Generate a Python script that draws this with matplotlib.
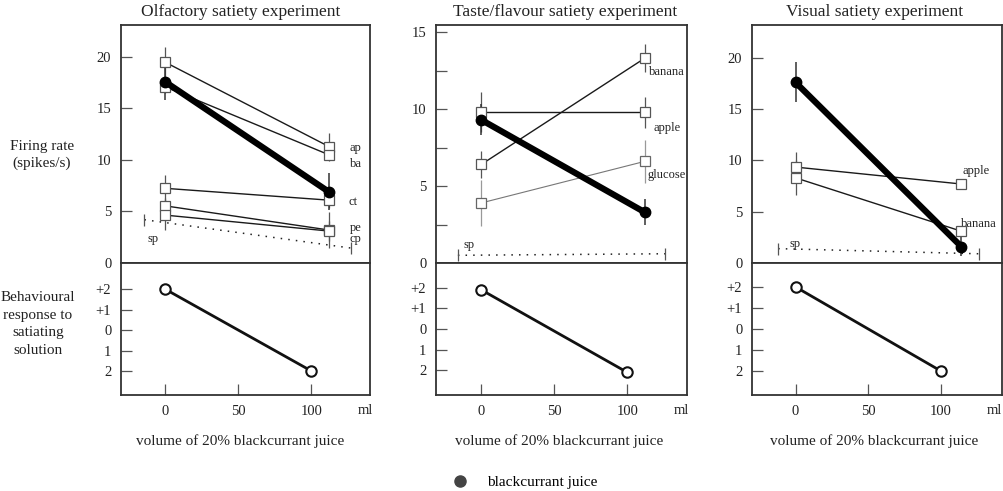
import matplotlib
matplotlib.use("Agg")
import matplotlib.pyplot as plt
from matplotlib.lines import Line2D
from matplotlib.ticker import MultipleLocator

plt.rcParams['font.family'] = ['Liberation Serif', 'DejaVu Serif']

# ---------------- data ----------------
titles = ["Olfactory satiety experiment", "Taste/flavour satiety experiment", "Visual satiety experiment"]

# x positions (ml) of neuronal measurements
x_olf = [0, 112]
x_tf = [0, 112]
x_vis = [0, 114]

# Olfactory satiety experiment (spikes/s)
olf_bc = [17.6, 6.9];  olf_bc_err = [1.8, 1.8]
olf_ap = [19.5, 11.3]; olf_ap_err = [1.5, 1.3]
olf_ba = [17.1, 10.5]; olf_ba_err = [0.6, 0.6]
olf_ct = [7.25, 6.1];  olf_ct_err = [1.25, 0.8]
olf_pe = [5.55, 3.2];  olf_pe_err = [0.8, 1.75]
olf_cp = [4.65, 3.1];  olf_cp_err = [1.45, 1.0]
olf_sp_x = [-14, 127]; olf_sp = [4.2, 1.45]

# Taste/flavour satiety experiment
tf_bc = [9.3, 3.3];       tf_bc_err = [1.0, 0.85]
tf_banana = [6.4, 13.3];  tf_banana_err = [0.9, 0.9]
tf_apple = [9.8, 9.8];    tf_apple_err = [1.3, 1.0]
tf_glucose = [3.9, 6.6];  tf_glucose_err = [1.5, 1.4]
tf_sp_x = [-16, 126];     tf_sp = [0.5, 0.6]

# Visual satiety experiment
vis_bc = [17.6, 1.6];     vis_bc_err = [1.95, 0.9]
vis_apple = [9.35, 7.7];  vis_apple_err = [1.45, 0.3]
vis_banana = [8.3, 3.1];  vis_banana_err = [1.7, 0.3]
vis_sp_x = [-12, 126];    vis_sp = [1.4, 0.9]

# Behavioural response (+2 .. 2 mapped to 2 .. -2)
beh_x = [0, 100]
beh_olf = [2, -2]
beh_tf = [1.9, -2.1]
beh_vis = [2, -2]
beh_ticks = [2, 1, 0, -1, -2]
beh_ticklabels = ["+2", "+1", "0", "1", "2"]
vol_ticks = [0, 50, 100]

# ---------------- layout ----------------
W, H = 1004, 491
fig = plt.figure(figsize=(W / 100, H / 100), dpi=100)

panels_px = [(121, 370), (436, 687), (752, 1002)]
top_y0, div_y, bot_y1 = 25, 263, 395

SPCOL = '#333333'


def style_spines(ax):
    for s in ax.spines.values():
        s.set_linewidth(1.3)
        s.set_color(SPCOL)


top_axes, bot_axes = [], []
for (l, r) in panels_px:
    axt = fig.add_axes([l / W, 1 - div_y / H, (r - l) / W, (div_y - top_y0) / H])
    axb = fig.add_axes([l / W, 1 - bot_y1 / H, (r - l) / W, (bot_y1 - div_y) / H])
    style_spines(axt)
    style_spines(axb)
    top_axes.append(axt)
    bot_axes.append(axb)

xlims = [(-30, 140), (-31, 141), (-30, 142)]
ylims_top = [(0, 23.1), (0, 15.46), (0, 23.2)]

SQ = dict(marker='s', markersize=7, markerfacecolor='white', markeredgecolor='#555555', markeredgewidth=0.9)


def series(ax, x, y, err, color='#1a1a1a', lw=1.0, ecolor='#555555', mec='#555555'):
    ax.errorbar(x, y, yerr=err, fmt='none', ecolor=ecolor, elinewidth=0.9, capsize=0, zorder=2)
    ax.plot(x, y, color=color, lw=lw, zorder=3)
    sq = dict(SQ)
    sq['markeredgecolor'] = mec
    ax.plot(x, y, linestyle='none', zorder=4, **sq)


def bc_series(ax, x, y, err):
    ax.errorbar(x, y, yerr=err, fmt='none', ecolor='#333333', elinewidth=1.1, capsize=0, zorder=2)
    ax.plot(x, y, color='black', lw=4.5, solid_capstyle='round', zorder=5)
    ax.plot(x, y, linestyle='none', marker='o', markersize=7.5, color='black', zorder=6)


def sp_line(ax, x, y):
    ax.plot(x, y, linestyle=(0, (1, 4)), color='#222222', lw=1.1, zorder=2)
    ax.plot(x, y, linestyle='none', marker='|', markersize=9, color='#555555', markeredgewidth=0.9, zorder=2)


LBL = dict(fontsize=9, color='#222222', va='center', ha='left')

# ----- Panel 1: olfactory -----
ax = top_axes[0]
series(ax, x_olf, olf_ap, olf_ap_err)
series(ax, x_olf, olf_ba, olf_ba_err)
series(ax, x_olf, olf_ct, olf_ct_err)
series(ax, x_olf, olf_pe, olf_pe_err)
series(ax, x_olf, olf_cp, olf_cp_err)
bc_series(ax, x_olf, olf_bc, olf_bc_err)
sp_line(ax, olf_sp_x, olf_sp)
ax.text(126, 11.2, "ap", **LBL)
ax.text(126, 9.6, "ba", **LBL)
ax.text(125, 5.9, "ct", **LBL)
ax.text(126, 3.4, "pe", **LBL)
ax.text(126, 2.3, "cp", **LBL)
ax.text(-12, 2.3, "sp", **LBL)
ax.set_yticks([0, 5, 10, 15, 20])

# ----- Panel 2: taste/flavour -----
ax = top_axes[1]
series(ax, x_tf, tf_banana, tf_banana_err)
series(ax, x_tf, tf_apple, tf_apple_err)
series(ax, x_tf, tf_glucose, tf_glucose_err, color='#777777', lw=0.8, ecolor='#999999', mec='#666666')
bc_series(ax, x_tf, tf_bc, tf_bc_err)
sp_line(ax, tf_sp_x, tf_sp)
ax.text(115, 12.4, "banana", **LBL)
ax.text(118, 8.75, "apple", **LBL)
ax.text(114, 5.7, "glucose", **LBL)
ax.text(-12, 1.15, "sp", **LBL)
ax.yaxis.set_major_locator(MultipleLocator(5))
ax.yaxis.set_minor_locator(MultipleLocator(2.5))

# ----- Panel 3: visual -----
ax = top_axes[2]
series(ax, x_vis, vis_apple, vis_apple_err)
series(ax, x_vis, vis_banana, vis_banana_err)
bc_series(ax, x_vis, vis_bc, vis_bc_err)
sp_line(ax, vis_sp_x, vis_sp)
ax.text(115, 9.0, "apple", **LBL)
ax.text(114, 3.85, "banana", **LBL)
ax.text(-4, 1.85, "sp", **LBL)
ax.set_yticks([0, 5, 10, 15, 20])

for i, ax in enumerate(top_axes):
    ax.set_xlim(*xlims[i])
    ax.set_ylim(*ylims_top[i])
    ax.tick_params(axis='x', bottom=False, labelbottom=False)
    ax.tick_params(axis='y', which='both', direction='in', length=8, width=0.9,
                   color='#555555', pad=7, labelsize=10.5, labelcolor='#222222')
    ax.tick_params(axis='y', which='minor', length=8)

# ----- Behavioural panels -----
beh_data = [beh_olf, beh_tf, beh_vis]
ylims_bot = [(-3.17, 3.27), (-3.2, 3.2), (-3.14, 3.14)]
label_x = [0.478, 0.49, 0.488]
title_x = [0.48, 0.514, 0.49]
for i, ax in enumerate(bot_axes):
    ax.plot(beh_x, beh_data[i], color='#111111', lw=2.0, zorder=3)
    ax.plot(beh_x, beh_data[i], linestyle='none', marker='o', markersize=7.5,
            markerfacecolor='white', markeredgecolor='#111111', markeredgewidth=1.5, zorder=4)
    ax.set_xlim(*xlims[i])
    ax.set_ylim(*ylims_bot[i])
    ax.set_yticks(beh_ticks)
    ax.set_yticklabels(beh_ticklabels)
    ax.set_xticks(vol_ticks)
    ax.tick_params(axis='both', direction='in', length=8, width=0.9, color='#555555',
                   labelsize=10.5, labelcolor='#222222')
    ax.tick_params(axis='y', pad=7)
    ax.tick_params(axis='x', pad=7)
    ax.text(137, -0.12, "ml", transform=ax.get_xaxis_transform(), fontsize=10.5,
            ha='center', va='center', color='#222222')
    ax.set_xlabel("volume of 20% blackcurrant juice", fontsize=11, color='#222222')
    ax.xaxis.set_label_coords(label_x[i], -0.30)
    top_axes[i].text(title_x[i], 1.055, titles[i], transform=top_axes[i].transAxes,
                     ha='center', va='center', fontsize=12.5, color='#222222')

# ----- left-hand labels -----
fig.text(42 / W, 1 - 155 / H, "Firing rate\n(spikes/s)", ha='center', va='center',
         fontsize=11, linespacing=1.4, color='#222222')
fig.text(38 / W, 1 - 324 / H, "Behavioural\nresponse to\nsatiating\nsolution", ha='center',
         va='center', fontsize=11, linespacing=1.45, color='#222222')

# ----- legend -----
handle = Line2D([], [], marker='o', color='#444444', linestyle='none', markersize=8)
fig.legend([handle], ["blackcurrant juice"], loc='center', bbox_to_anchor=(521 / W, 1 - 482 / H),
           frameon=False, fontsize=11, handletextpad=0.8, borderpad=0, borderaxespad=0)

fig.savefig("out.png", dpi=100)
